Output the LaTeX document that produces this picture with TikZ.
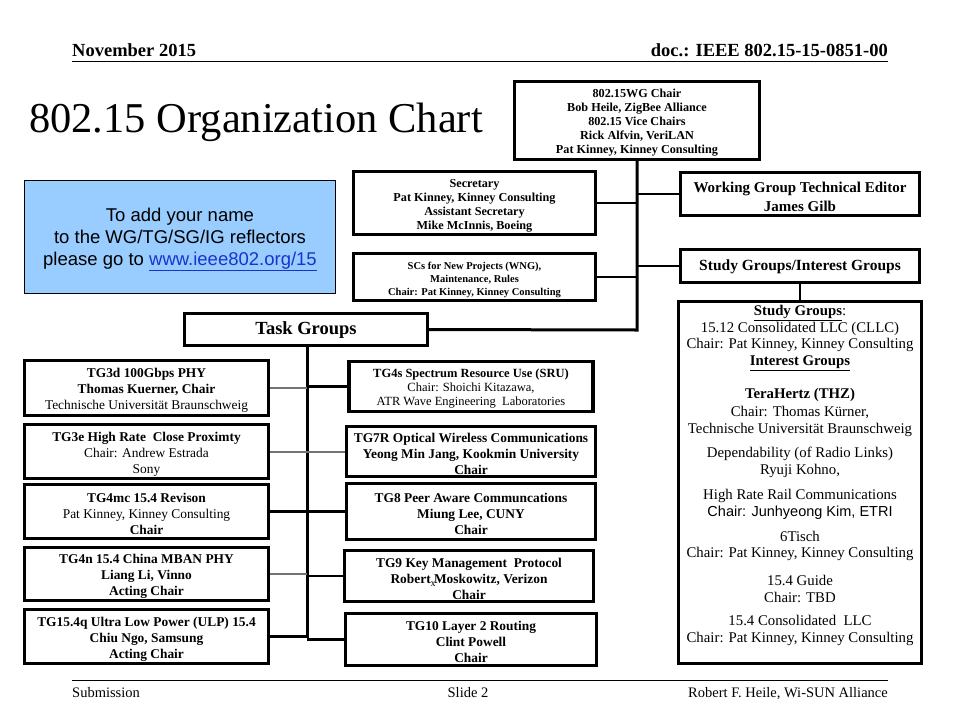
\documentclass[tikz,border=0pt]{standalone}
\usepackage{fontspec}
\setmainfont{Liberation Serif}
\newfontfamily\arialf{Liberation Sans}
\usetikzlibrary{calc}
\definecolor{boxblue}{HTML}{99CCFF}
\definecolor{linkblue}{HTML}{1A33CC}
\newcommand{\fs}[2]{\fontsize{#1}{#2}\selectfont}
\tikzset{
  obox/.style={draw, line width=3.3pt, fill=white, inner sep=0pt},
  trunk/.style={line width=3pt},
  conn/.style={line width=2.6pt},
  gconn/.style={line width=2pt, draw=black!55},
  ttext/.style={inner sep=0pt, align=center},
  intext/.style={ttext, yshift=-2.5pt},
}
\begin{document}
\begin{tikzpicture}[x=1pt,y=-1pt]
\useasboundingbox (0,0) rectangle (960,720);
\fill[white] (0,0) rectangle (960,720);

% header
\node[ttext, anchor=base west, font={\fs{18.5}{20}\bfseries}] (hdate) at (72,56) {November 2015};
\node[ttext, anchor=base east, font={\fs{18.5}{20}\bfseries}] (hdoc) at (888,56) {doc.: IEEE 802.15-15-0851-00};
\coordinate (hl1) at (72,61);
\coordinate (hl2) at (888,61);
\draw[line width=1pt] (hl1) -- (hl2);

% title
\node[ttext, anchor=base west, font={\fs{42.5}{48}}] (title) at (29,132) {802.15 Organization Chart};

% blue box
\node[draw, line width=1pt, fill=boxblue, minimum width=311, minimum height=113, inner sep=0pt] (blue) at (180,237) {};
\node[intext, font={\arialf\fs{18.5}{22}}] (bluet) at (blue.center)
  {To add your name\\ to the WG/TG/SG/IG reflectors\\ please go to \textcolor{linkblue}{\underline{www.ieee802.org/15}}};

% top boxes
\node[obox, minimum width=245, minimum height=78] (wgchair) at (637,120.5) {};
\node[intext, font={\fs{12.2}{14}\bfseries}] (wgchairt) at (wgchair.center)
  {802.15WG Chair\\ Bob Heile, ZigBee Alliance\\ 802.15 Vice Chairs\\ Rick Alfvin, VeriLAN\\ Pat Kinney, Kinney Consulting};
\node[obox, minimum width=242, minimum height=63] (sec) at (474.5,203) {};
\node[intext, font={\fs{12.2}{14}\bfseries}] (sect) at (sec.center)
  {Secretary\\ Pat Kinney, Kinney Consulting\\ Assistant Secretary\\ Mike McInnis, Boeing};
\node[obox, minimum width=242, minimum height=47] (scs) at (474.5,277) {};
\node[intext, font={\fs{10.5}{13}\bfseries}] (scst) at (scs.center)
  {SCs for New Projects (WNG),\\ Maintenance, Rules\\ Chair: Pat Kinney, Kinney Consulting};
\node[obox, minimum width=239, minimum height=43] (editor) at (800,194) {};
\node[intext, font={\fs{15}{19}\bfseries}] (editort) at (editor.center)
  {Working Group Technical Editor\\ James Gilb};
\node[obox, minimum width=239, minimum height=33] (sgig) at (800,266) {};
\node[ttext, yshift=-1pt, font={\fs{15.5}{17}\bfseries}] (sgigt) at (sgig.center)
  {Study Groups/Interest Groups};
\node[obox, minimum width=243, minimum height=362] (big) at (800,482.5) {};
\node[obox, minimum width=243, minimum height=32] (tasks) at (306,329.5) {};
\node[ttext, yshift=-1pt, font={\fs{18.5}{20}\bfseries}] (taskst) at (tasks.center) {Task Groups};

% big box contents
\node[ttext, font={\fs{14.8}{16.7}}] (sga) at (800,338) {\underline{\textbf{Study Groups}}:\\ 15.12 Consolidated LLC (CLLC)\\ Chair: Pat Kinney, Kinney Consulting\\ \underline{\textbf{Interest Groups}}};
\node[ttext, font={\fs{14.8}{17.5}}] (sgb) at (800,412.5) {\textbf{TeraHertz (THZ)}\\ Chair: Thomas Kürner,\\ Technische Universität Braunschweig};
\node[ttext, font={\fs{14.8}{17}}] (sgc) at (800,462.5) {Dependability (of Radio Links)\\ Ryuji Kohno,};
\node[ttext, font={\fs{14.8}{17}}] (sgd) at (800,504.5) {High Rate Rail Communications\\ {\arialf\fs{14.5}{17}Chair: Junhyeong Kim, ETRI}};
\node[ttext, font={\fs{14.8}{16.5}}] (sge) at (800,546) {6Tisch\\ Chair: Pat Kinney, Kinney Consulting};
\node[ttext, font={\fs{14.8}{17}}] (sgf) at (800,588.5) {15.4 Guide\\ Chair: TBD};
\node[ttext, font={\fs{14.8}{17}}] (sgg) at (800,630.5) {15.4 Consolidated\ \ LLC\\ Chair: Pat Kinney, Kinney Consulting};

% left task group boxes
\node[obox, minimum width=244, minimum height=55] (tg3d) at (146.5,388) {};
\node[intext, font={\fs{13.4}{16}}] (tg3dt) at (tg3d.center)
  {\textbf{TG3d 100Gbps PHY}\\ \textbf{Thomas Kuerner, Chair}\\ Technische Universität Braunschweig};
\node[obox, minimum width=244, minimum height=54] (tg3e) at (146.5,451.5) {};
\node[intext, font={\fs{13.4}{16}}] (tg3et) at (tg3e.center)
  {\textbf{TG3e High Rate\ \ Close Proximty}\\ Chair: Andrew Estrada\\ Sony};
\node[obox, minimum width=244, minimum height=54] (tg4mc) at (146.5,511.5) {};
\node[intext, font={\fs{13.4}{16}}] (tg4mct) at (tg4mc.center)
  {\textbf{TG4mc 15.4 Revison}\\ Pat Kinney, Kinney Consulting\\ \textbf{Chair}};
\node[obox, minimum width=244, minimum height=53] (tg4n) at (146.5,574) {};
\node[intext, font={\fs{13.4}{16}\bfseries}] (tg4nt) at (tg4n.center)
  {TG4n 15.4 China MBAN PHY\\ Liang Li, Vinno\\ Acting Chair};
\node[obox, minimum width=244, minimum height=54] (tg4q) at (146.5,636.5) {};
\node[intext, font={\fs{13.4}{16}\bfseries}] (tg4qt) at (tg4q.center)
  {TG15.4q Ultra Low Power (ULP) 15.4\\ Chiu Ngo, Samsung\\ Acting Chair};

% right task group boxes
\node[obox, minimum width=244, minimum height=50] (tg4s) at (471,386.5) {};
\node[intext, font={\fs{12.5}{14}}] (tg4st) at (tg4s.center)
  {\textbf{TG4s Spectrum Resource Use (SRU)}\\ Chair: Shoichi Kitazawa,\\ ATR Wave Engineering\ \ Laboratories};
\node[obox, minimum width=249, minimum height=50] (tg7r) at (471,451.5) {};
\node[intext, font={\fs{13.4}{16}\bfseries}] (tg7rt) at (tg7r.center)
  {TG7R Optical Wireless Communications\\ Yeong Min Jang, Kookmin University\\ Chair};
\node[obox, minimum width=249, minimum height=56] (tg8) at (471,511.5) {};
\node[intext, font={\fs{13.4}{16}\bfseries}] (tg8t) at (tg8.center)
  {TG8 Peer Aware Communcations\\ Miung Lee, CUNY\\ Chair};
\node[obox, minimum width=249, minimum height=51] (tg9) at (469,576) {};
\node[intext, font={\fs{13.4}{16}\bfseries}] (tg9t) at (tg9.center)
  {TG9 Key Management\ \ Protocol\\ Robert\makebox[0pt][l]{\raisebox{-3.5pt}{\normalfont\fs{10}{10}x}} Moskowitz, Verizon\\ Chair};
\node[obox, minimum width=251, minimum height=52] (tg10) at (471,639.5) {};
\node[intext, font={\fs{13.4}{16}\bfseries}] (tg10t) at (tg10.center)
  {TG10 Layer 2 Routing\\ Clint Powell\\ Chair};

% top trunk
\coordinate (tA) at (637,330);
\draw[trunk] (wgchair.south) -- (tA) -- (tasks.east);
\draw[conn] (sec.east) -- (sec.east -| tA);
\draw[conn] (scs.east) -- (scs.east -| tA);
\draw[conn] (editor.west) -- (editor.west -| tA);
\draw[conn] (sgig.west) -- (sgig.west -| tA);
\draw[conn] (sgig.south) -- (big.north);

% task trunk
\coordinate (tB) at (307,638);
\draw[trunk] (tasks.south -| tB) -- (tB);
\draw[gconn] (tg3d.east) -- (tg3d.east -| tB);
\draw[gconn] (tg3e.east) -- (tg3e.east -| tB);
\draw[conn] (tg4mc.east) -- (tg4mc.east -| tB);
\draw[gconn] (tg4n.east) -- (tg4n.east -| tB);
\draw[conn] (tg4q.east) -- (tg4q.east -| tB);
\draw[conn] (tg4s.west) -- (tg4s.west -| tB);
\draw[gconn] (tg7r.west) -- (tg7r.west -| tB);
\draw[conn] (tg8.west) -- (tg8.west -| tB);
\draw[conn] (tg9.west) -- (tg9.west -| tB);
\draw[conn] (tg10.west) -- (tg10.west -| tB);

% footer
\coordinate (fl1) at (72,680);
\coordinate (fl2) at (888,680);
\draw[line width=1pt] (fl1) -- (fl2);
\node[ttext, anchor=base west, font={\fs{14.5}{16}}] (fsub) at (72,697) {Submission};
\node[ttext, anchor=base, font={\fs{14.5}{16}}] (fslide) at (468,697) {Slide 2};
\node[ttext, anchor=base east, font={\fs{14.5}{16}}] (fauth) at (888,697) {Robert F. Heile, Wi-SUN Alliance};
\end{tikzpicture}
\end{document}
